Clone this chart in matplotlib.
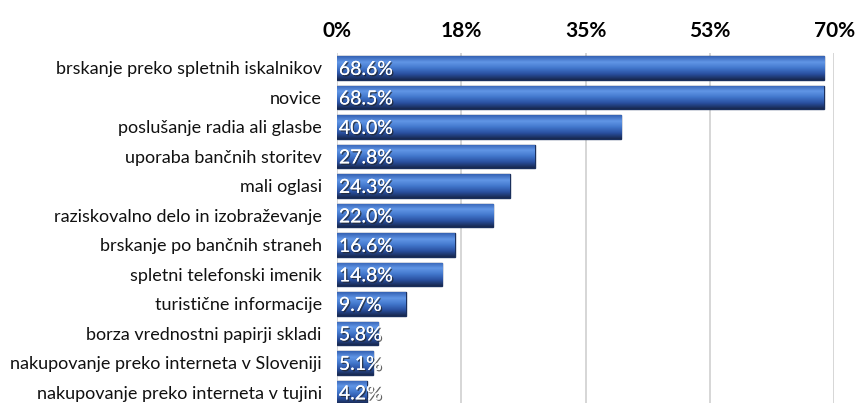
import numpy as np
import matplotlib.pyplot as plt
from matplotlib.colors import LinearSegmentedColormap
import matplotlib.patheffects as pe

categories = [
    'brskanje preko spletnih iskalnikov',
    'novice',
    'poslušanje radia ali glasbe',
    'uporaba bančnih storitev',
    'mali oglasi',
    'raziskovalno delo in izobraževanje',
    'brskanje po bančnih straneh',
    'spletni telefonski imenik',
    'turistične informacije',
    'borza vrednostni papirji skladi',
    'nakupovanje preko interneta v Sloveniji',
    'nakupovanje preko interneta v tujini',
]
values = [68.6, 68.5, 40.0, 27.8, 24.3, 22.0, 16.6, 14.8, 9.7, 5.8, 5.1, 4.2]
ticks = [0, 17.5, 35, 52.5, 70]
tick_labels = ['0%', '18%', '35%', '53%', '70%']

plt.rcParams['font.family'] = ['Lato', 'DejaVu Sans']

fig = plt.figure(figsize=(8.6, 4.03), dpi=100)
ax = fig.add_axes([0.392, 0.0, 0.578, 0.868])

y = np.arange(len(values))
h = 0.8
bars = ax.barh(y, values, height=h, color='#3d6cc0', edgecolor='#1a2f5c',
               linewidth=1.0, zorder=3)

# cylinder-like shading inside each bar
cmap = LinearSegmentedColormap.from_list(
    'cyl', ['#3562b4', '#6196e6', '#4277cc', '#2a50a0', '#17284f'])
grad = np.linspace(0, 1, 64).reshape(-1, 1)
for b, yi, v in zip(bars, y, values):
    im = ax.imshow(grad, cmap=cmap, aspect='auto', origin='upper',
                   extent=(0, v, yi + h / 2, yi - h / 2), zorder=3.5)
    im.set_clip_path(b)
    ax.text(0.25, yi + 0.05, f'{v:.1f}%', color='white', fontsize=14,
            va='center', ha='left', zorder=5,
            path_effects=[pe.withSimplePatchShadow(offset=(1, -1),
                                                   shadow_rgbFace='#222222',
                                                   alpha=0.7),
                          pe.Normal()])

ax.set_xlim(0, 70)
ax.set_ylim(11.36, -0.5)
ax.set_xticks(ticks)
ax.set_xticklabels(tick_labels, fontsize=15, fontweight='bold')
ax.xaxis.tick_top()
ax.tick_params(axis='x', length=0, pad=9)
ax.set_yticks(y)
ax.set_yticklabels(categories, fontsize=13, color='#111111')
ax.tick_params(axis='y', length=0, pad=11)
ax.grid(axis='x', color='#d0d0d0', linewidth=1.2, zorder=0)
for s in ax.spines.values():
    s.set_visible(False)

fig.savefig('out.png', dpi=100)
